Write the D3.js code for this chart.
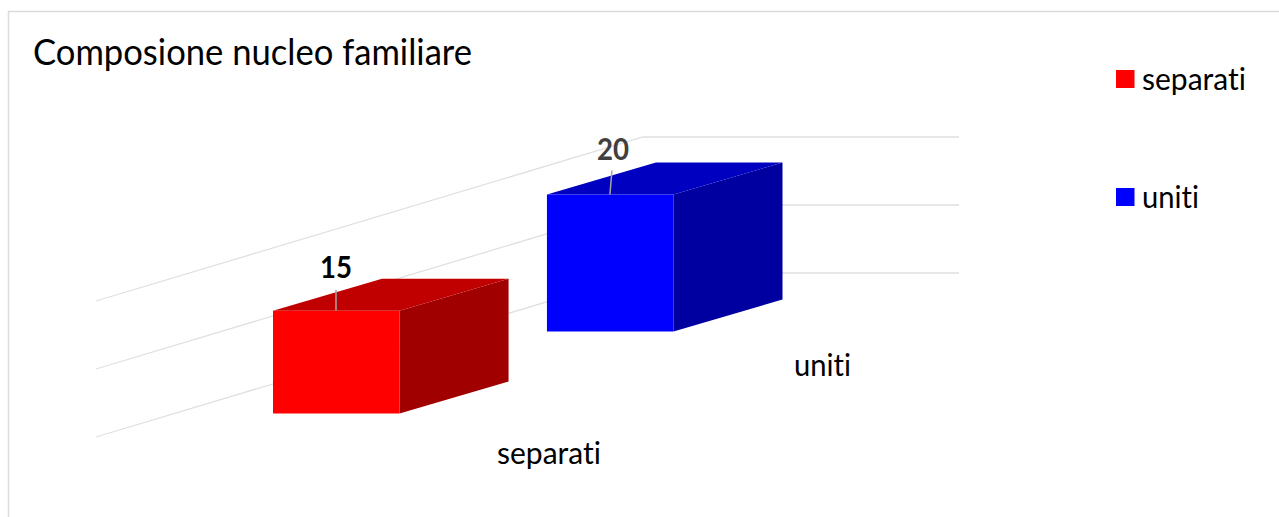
<!DOCTYPE html>
<html><head><meta charset="utf-8">
<script src="https://cdn.jsdelivr.net/npm/d3@7"></script>
<style>html,body{margin:0;padding:0;background:#fff}svg{display:block}text{font-family:Lato,"Open Sans",sans-serif;font-variant-ligatures:none}</style>
</head><body><svg id="c" width="1279" height="517"></svg>
<script>
const titleText = "Composione nucleo familiare";
const categories = ["separati", "uniti"];
const values = [15, 20];
const tickValues = [0, 10, 20];
const frontColors = ["#ff0000", "#0000ff"];
const topColors = ["#c00000", "#0000c0"];
const sideColors = ["#a00000", "#0000a0"];
const labelColors = ["#000000", "#404040"];
const catWidths = [104, 57];

const svg = d3.select("#c");
const W = 1279, H = 517;

svg.append("path").attr("d", `M8.5,${H}V11.5H${W}`).attr("fill", "none").attr("stroke", "#dcdcdc").attr("stroke-width", 1.5);

const x = d3.scaleBand().domain(categories).range([273, 673.5]).paddingInner(0.538).paddingOuter(0);
const bandW = x.bandwidth();
const floorY = d3.scaleLinear().domain([x(categories[0]), x(categories[1])]).range([413.5, 331.5]);
const h = d3.scaleLinear().domain([0, 20]).range([0, 137]);
const depth = {dx: 109, dy: -32};
const gridY = d3.scaleLinear().domain([0, 20]).range([437, 301]);
const gridRun = {dx: 547, dy: -164, x0: 96, x1: 959};

svg.append("g").selectAll("path").data(tickValues).join("path")
  .attr("d", t => {
    const y0 = gridY(t);
    return `M${gridRun.x0},${y0}L${gridRun.x0 + gridRun.dx},${y0 + gridRun.dy}H${gridRun.x1}`;
  })
  .attr("fill", "none").attr("stroke", "#e0e0e0").attr("stroke-width", 1.3);

const rows = categories.map((c, i) => ({c, i, v: values[i]}));
const bars = svg.append("g").selectAll("g").data(rows).join("g");

const pts = a => a.map(p => p.join(",")).join(" ");
bars.append("polygon").attr("fill", d => sideColors[d.i]).attr("points", d => {
  const l = x(d.c) + bandW, b = floorY(x(d.c)), t = b - h(d.v);
  return pts([[l, b], [l, t], [l + depth.dx, t + depth.dy], [l + depth.dx, b + depth.dy]]);
});
bars.append("polygon").attr("fill", d => topColors[d.i]).attr("points", d => {
  const l = x(d.c), t = floorY(l) - h(d.v);
  return pts([[l, t], [l + bandW, t], [l + bandW + depth.dx, t + depth.dy], [l + depth.dx, t + depth.dy]]);
});
bars.append("rect").attr("fill", d => frontColors[d.i])
  .attr("x", d => x(d.c)).attr("width", bandW)
  .attr("y", d => floorY(x(d.c)) - h(d.v)).attr("height", d => h(d.v));

bars.append("line").attr("stroke", "#a6a6a6").attr("stroke-width", 1.5)
  .attr("x1", d => x(d.c) + 63).attr("y1", d => floorY(x(d.c)) - h(d.v))
  .attr("x2", d => x(d.c) + 63 + d.i * 2).attr("y2", d => floorY(x(d.c)) - h(d.v) - 21 - d.i * 3);

const fit = (s, width) => s.attr("textLength", width).attr("lengthAdjust", "spacingAndGlyphs");
bars.append("text").text(d => d.v).attr("text-anchor", "middle")
  .attr("font-weight", 700).attr("font-size", 30).attr("fill", d => labelColors[d.i])
  .attr("x", d => x(d.c) + 63 + d.i * 3).attr("y", d => floorY(x(d.c)) - h(d.v) - 33 - d.i * 2)
  .call(fit, 32);

bars.append("text").text(d => d.c).attr("font-size", 31).attr("fill", "#000")
  .attr("x", d => x(d.c) + 224 + d.i * 23).attr("y", d => floorY(x(d.c)) + 50 - d.i * 6)
  .each(function(d){ d3.select(this).call(fit, catWidths[d.i]); });

svg.append("text").text(titleText).attr("x", 33).attr("y", 65).attr("font-size", 36).attr("fill", "#000").call(fit, 439);

const lg = svg.append("g").selectAll("g").data(rows).join("g")
  .attr("transform", d => `translate(1116,${70 + d.i * 118})`);
lg.append("rect").attr("width", 18.5).attr("height", 18).attr("fill", d => frontColors[d.i]);
lg.append("text").text(d => d.c).attr("x", 26).attr("y", 20).attr("font-size", 31).attr("fill", "#000")
  .each(function(d){ d3.select(this).call(fit, catWidths[d.i]); });
</script></body></html>
